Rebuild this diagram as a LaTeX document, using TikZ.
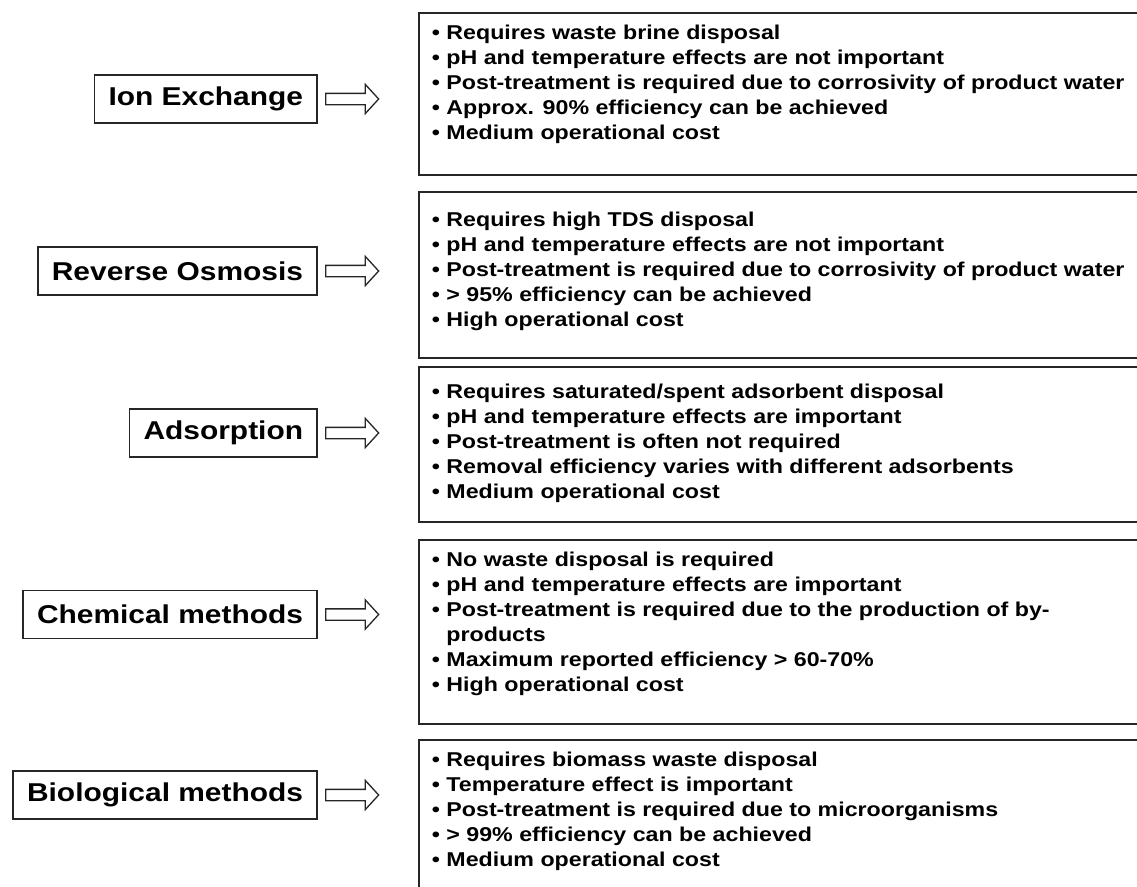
\documentclass[tikz,border=0pt]{standalone}
\usepackage{fontspec}
\setmainfont{Liberation Sans}[FakeStretch=1.16]
\usetikzlibrary{positioning,shapes.arrows}
\newcommand\pnt{•\ }
\tikzset{
  every picture/.style={x=1pt, y=-1pt, line width=1.8pt, color=black!85},
  method/.style={draw, text=black, anchor=east, inner xsep=14pt, inner ysep=0pt, minimum height=48pt,
    font=\fontsize{25.8}{28}\selectfont\bfseries},
  pointer/.style={single arrow, draw, line width=1.3pt, minimum height=53pt, inner sep=5pt,
    single arrow head extend=9pt, single arrow tip angle=95},
  frame/.style={draw, anchor=north west, minimum width=740pt},
  notes/.style={anchor=north west, align=left, text=black, inner xsep=13pt, inner ysep=12pt,
    font=\fontsize{20}{25}\selectfont\bfseries},
}

\begin{document}
\begin{tikzpicture}
  \useasboundingbox (0,0) rectangle (1137,886);
  \clip (0,0) rectangle (1137,886);

  \node[method] (ion) at (318,99) {Ion Exchange};
  \node[method] (ro) at (318,271) {Reverse Osmosis};
  \node[method] (ads) at (318,433) {Adsorption};
  \node[method] (chem) at (318,614.5) {Chemical methods};
  \node[method] (bio) at (318,795) {Biological methods};

  \node[pointer, right=7pt of ion] (ionarr) {};
  \node[pointer, right=7pt of ro] (roarr) {};
  \node[pointer, right=7pt of ads] (adsarr) {};
  \node[pointer, right=7pt of chem] (chemarr) {};
  \node[pointer, right=7pt of bio] (bioarr) {};

  \node[frame, minimum height=162pt] (ionbox) at (418,12) {};
  \node[frame, minimum height=166pt] (robox) at (418,191) {};
  \node[frame, minimum height=155pt] (adsbox) at (418,366) {};
  \node[frame, minimum height=184pt] (chembox) at (418,539) {};
  \node[frame, minimum height=200pt] (biobox) at (418,739) {};

  \node[notes] (iontext) at (ionbox.north west) {\pnt Requires waste brine disposal\\
    \pnt pH and temperature effects are not important\\
    \pnt Post-treatment is required due to corrosivity of product water\\
    \pnt Approx. 90\% efficiency can be achieved\\
    \pnt Medium operational cost};
  \node[notes, yshift=-8pt] (rotext) at (robox.north west) {\pnt Requires high TDS disposal\\
    \pnt pH and temperature effects are not important\\
    \pnt Post-treatment is required due to corrosivity of product water\\
    \pnt > 95\% efficiency can be achieved\\
    \pnt High operational cost};
  \node[notes, yshift=-5pt] (adstext) at (adsbox.north west) {\pnt Requires saturated/spent adsorbent disposal\\
    \pnt pH and temperature effects are important\\
    \pnt Post-treatment is often not required\\
    \pnt Removal efficiency varies with different adsorbents\\
    \pnt Medium operational cost};
  \node[notes] (chemtext) at (chembox.north west) {\pnt No waste disposal is required\\
    \pnt pH and temperature effects are important\\
    \pnt Post-treatment is required due to the production of by-\\
    \hphantom{\pnt}products\\
    \pnt Maximum reported efficiency > 60-70\%\\
    \pnt High operational cost};
  \node[notes] (biotext) at (biobox.north west) {\pnt Requires biomass waste disposal\\
    \pnt Temperature effect is important\\
    \pnt Post-treatment is required due to microorganisms\\
    \pnt > 99\% efficiency can be achieved\\
    \pnt Medium operational cost};
\end{tikzpicture}
\end{document}
